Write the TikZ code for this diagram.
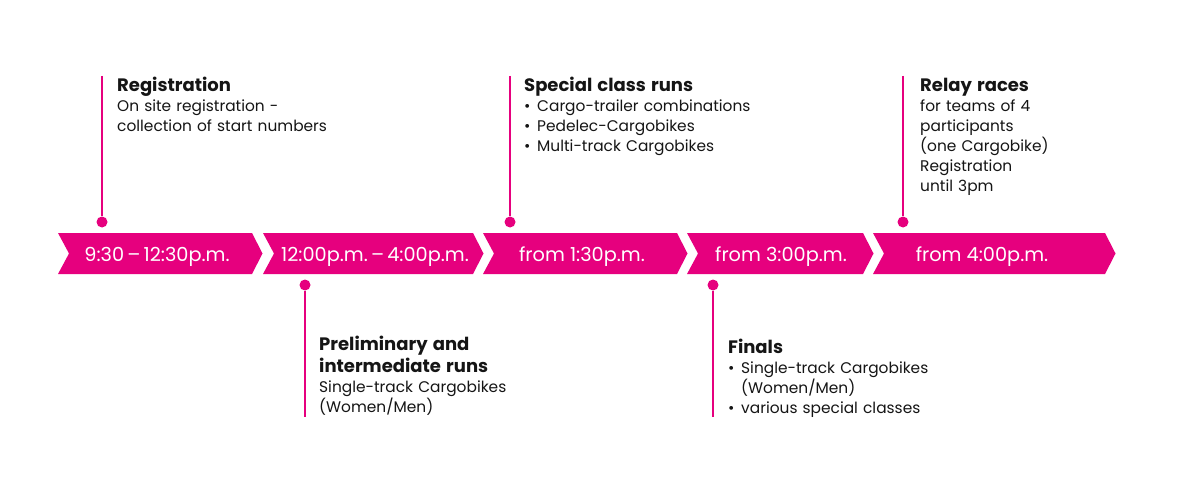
\documentclass[tikz,border=0pt]{standalone}
\usepackage{fontspec}
\setmainfont{Poppins}
\definecolor{brandpink}{HTML}{E6007E}
\definecolor{textgrey}{HTML}{151515}
\newcommand{\bodysize}{\fontsize{15.4}{20}\selectfont}
\newcommand{\titlesize}{\fontsize{18}{22}\selectfont\bfseries}
\newcommand{\bul}{\makebox[13pt][l]{•}}
\newcommand{\bulindent}{\hspace*{13pt}}
\begin{document}
\begin{tikzpicture}[x=1pt,y=-1pt,
  chevfill/.style={fill=brandpink},
  chevlabel/.style={anchor=base, text=white, inner sep=0pt, font=\fontsize{19.3}{22}\selectfont},
  stem/.style={draw=brandpink, line width=2pt},
  dotmark/.style={circle, fill=brandpink, minimum size=11pt, inner sep=0pt},
  infotext/.style={anchor=base west, inner sep=0pt, text width=300pt, align=left, text=textgrey, font=\bodysize}
]
\useasboundingbox[fill=white] (0,0) rectangle (1185,489);

% chevrons
\newcommand{\chevron}[2]{%
  \fill[chevfill] (#1,233) -- (#2,233) -- ({#2+10.5},253.5) -- (#2,274) -- (#1,274) -- ({#1+11},253.5) -- cycle;}
\chevron{58}{252}
\chevron{263}{473}
\chevron{483}{677}
\chevron{687}{863}
\chevron{873}{1105}

\node[chevlabel] (t1) at (157,261) {9:30\,–\,12:30p.m.};
\node[chevlabel] (t2) at (375,261) {12:00p.m.\,–\,4:00p.m.};
\node[chevlabel] (t3) at (582,261) {from 1:30p.m.};
\node[chevlabel] (t4) at (781,261) {from 3:00p.m.};
\node[chevlabel] (t5) at (982,261) {from 4:00p.m.};

% stems and dots
\coordinate (regtop) at (102,76);
\node[dotmark] (regdot) at (102,222) {};
\coordinate (spectop) at (510,76);
\node[dotmark] (specdot) at (510,222) {};
\coordinate (reltop) at (903,76);
\node[dotmark] (reldot) at (903,222) {};
\coordinate (prebot) at (305,417);
\node[dotmark] (predot) at (305,285) {};
\coordinate (finbot) at (713,417);
\node[dotmark] (findot) at (713,285) {};

\draw[stem] (regtop) -- (regdot);
\draw[stem] (spectop) -- (specdot);
\draw[stem] (reltop) -- (reldot);
\draw[stem] (predot) -- (prebot);
\draw[stem] (findot) -- (finbot);

% texts
\node[infotext] (reg) at (117,92) {{\titlesize Registration\par}
On site registration -\\collection of start numbers};
\node[infotext] (spec) at (524,92) {{\titlesize Special class runs\par}
\bul Cargo-trailer combinations\\\bul Pedelec-Cargobikes\\\bul Multi-track Cargobikes};
\node[infotext] (rel) at (920,92) {{\titlesize Relay races\par}
for teams of 4\\participants\\(one Cargobike)\\Registration\\until 3pm};
\node[infotext] (pre) at (319,350) {{\titlesize Preliminary and\\intermediate runs\par}
Single-track Cargobikes\\(Women/Men)};
\node[infotext] (fin) at (728,353) {{\titlesize Finals\par}
\bul Single-track Cargobikes\\\bulindent(Women/Men)\\\bul various special classes};
\end{tikzpicture}
\end{document}
